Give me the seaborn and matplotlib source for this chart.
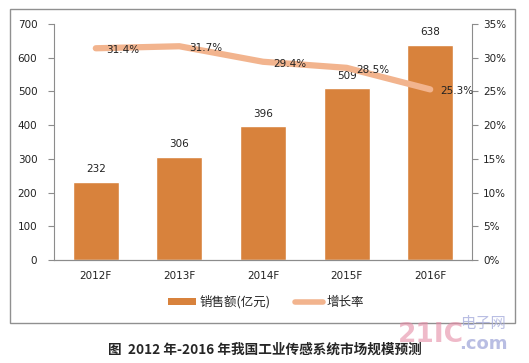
import numpy as np
import pandas as pd
import matplotlib
matplotlib.use("Agg")
import matplotlib.pyplot as plt
from matplotlib.patches import Rectangle, Patch
from matplotlib.lines import Line2D
from matplotlib.ticker import FuncFormatter
import seaborn as sns

# Data
years = ["2012F", "2013F", "2014F", "2015F", "2016F"]
sales = [232, 306, 396, 509, 638]
growth = [31.4, 31.7, 29.4, 28.5, 25.3]
sales_label = "销售额(亿元)"
growth_label = "增长率"
caption = "图  2012 年-2016 年我国工业传感系统市场规模预测"

BAR_COLOR = "#D8823C"
LINE_COLOR = "#F2B48E"
AXIS_COLOR = "#8C8C8C"
W, H = 529, 363

sns.set_style("white")
plt.rcParams["font.family"] = ["DejaVu Sans", "Noto Sans CJK SC"]

df = pd.DataFrame({"year": years, "sales": sales, "growth": growth})

fig = plt.figure(figsize=(W / 100, H / 100), dpi=100)
ax = fig.add_axes([54 / W, 1 - 260 / H, 418 / W, 236 / H])

# outer frame
fig.patches.append(Rectangle((10 / W, 1 - 323 / H), 505 / W, 314 / H,
                             transform=fig.transFigure, fill=False,
                             edgecolor="#909090", lw=1.0))

sns.barplot(data=df, x="year", y="sales", color=BAR_COLOR, width=0.55,
            saturation=1, ax=ax)
ax.set_ylim(0, 700)
ax.set_yticks(range(0, 701, 100))
ax.set_xlabel("")
ax.set_ylabel("")
for i, v in enumerate(sales):
    ax.text(i, v + 22, str(v), ha="center", va="bottom", fontsize=7.5, color="#222222")

ax2 = ax.twinx()
sns.lineplot(data=df, x="year", y="growth", color=LINE_COLOR, lw=4.5,
             solid_capstyle="round", ax=ax2)
ax2.set_ylim(0, 35)
ax2.set_yticks(range(0, 36, 5))
ax2.yaxis.set_major_formatter(FuncFormatter(lambda v, p: f"{v:.0f}%"))
ax2.set_ylabel("")
ax.set_xlim(-0.5, 4.5)
for i, v in enumerate(growth):
    ax2.text(i + 0.12, v - 0.3, f"{v}%", ha="left", va="center", fontsize=7.5, color="#222222")

for a in (ax, ax2):
    a.spines["top"].set_visible(False)
    for s in ("bottom", "left", "right"):
        a.spines[s].set_color(AXIS_COLOR)
    a.tick_params(labelsize=7.5, colors="#222222", length=0)
ax.spines["right"].set_visible(False)
ax2.spines["left"].set_visible(False)
ax.tick_params(axis="y", length=4, color=AXIS_COLOR, pad=8)
ax2.tick_params(axis="y", length=4, color=AXIS_COLOR, pad=4)
ax.tick_params(axis="x", pad=8)

handles = [Patch(facecolor=BAR_COLOR, edgecolor="none"),
           Line2D([0], [0], color=LINE_COLOR, lw=4)]
fig.legend(handles, [sales_label, growth_label], loc="center",
           bbox_to_anchor=(266 / W, 1 - 302 / H), ncol=2, frameon=False,
           prop={"family": ["Noto Sans CJK SC"], "size": 9},
           handlelength=2.2, handleheight=0.5, columnspacing=2.0, handletextpad=0.3)

fig.text(265 / W, 1 - 350 / H, caption, ha="center", va="center",
         fontsize=9.8, fontweight="bold", family=["Noto Sans CJK SC"])

# watermark
fig.text(398 / W, 1 - 335 / H, "21IC", fontsize=19, fontweight="bold",
         color="#E58CA6", alpha=0.6, ha="left", va="center")
fig.text(460 / W, 1 - 323 / H, "电子网", fontsize=11, color="#A8AEDC",
         alpha=0.8, ha="left", va="center", family=["Noto Sans CJK SC"])
fig.text(459 / W, 1 - 344 / H, ".com", fontsize=13, fontweight="bold",
         color="#A8AEDC", alpha=0.8, ha="left", va="center")

fig.savefig("out.png", dpi=100)
